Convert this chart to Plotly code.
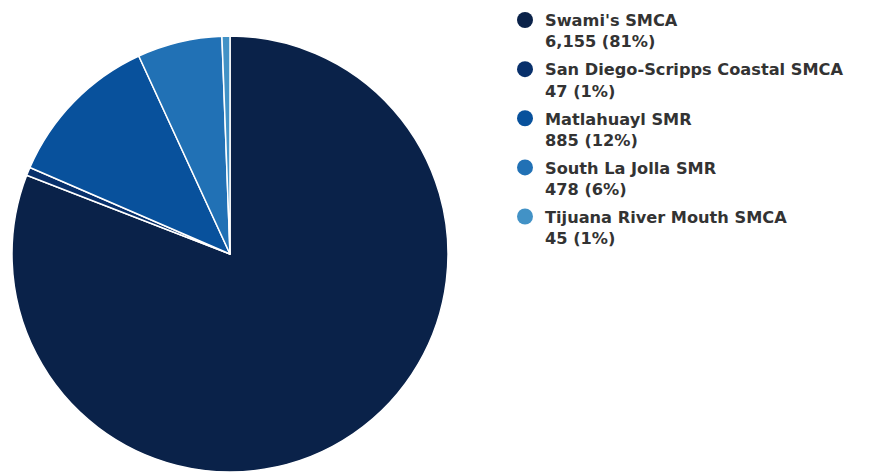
import plotly.graph_objects as go

labels = ["Swami's SMCA", "San Diego-Scripps Coastal SMCA", "Matlahuayl SMR",
          "South La Jolla SMR", "Tijuana River Mouth SMCA"]
values = [6155, 47, 885, 478, 45]
colors = ["#0a2249", "#08306b", "#08519c", "#2171b5", "#4292c6"]

total = sum(values)
W, H = 870, 472

fig = go.Figure()
fig.add_trace(go.Pie(
    labels=labels, values=values, sort=False, direction="clockwise", rotation=0,
    marker=dict(colors=colors, line=dict(color="white", width=1.5)),
    textinfo="none", hoverinfo="label+value+percent", showlegend=False,
    domain=dict(x=[4 / W, 440 / W], y=[8 / H, 444 / H]),
))

for lab, val, col in zip(labels, values, colors):
    pct = round(val / total * 100)
    fig.add_trace(go.Scatter(
        x=[None], y=[None], mode="markers", name=f"{lab}<br>{val:,} ({pct}%)",
        legendgroup=lab,
        marker=dict(symbol="circle", size=16, color=col), hoverinfo="skip",
    ))

fig.update_layout(
    width=W, height=H, margin=dict(l=0, r=0, t=0, b=0, autoexpand=False),
    paper_bgcolor="white", plot_bgcolor="white",
    xaxis=dict(visible=False, domain=[0.99, 1]), yaxis=dict(visible=False, domain=[0.99, 1]),
    legend=dict(x=497 / W, y=1 + 5 / H, xanchor="left", yanchor="top", valign="top",
                traceorder="grouped", tracegroupgap=4, maxheight=600,
                font=dict(family="DejaVu Sans", size=16.2, color="#333333", weight="bold"),
                itemsizing="trace", bgcolor="rgba(0,0,0,0)"),
)

fig.write_html("out.html")
